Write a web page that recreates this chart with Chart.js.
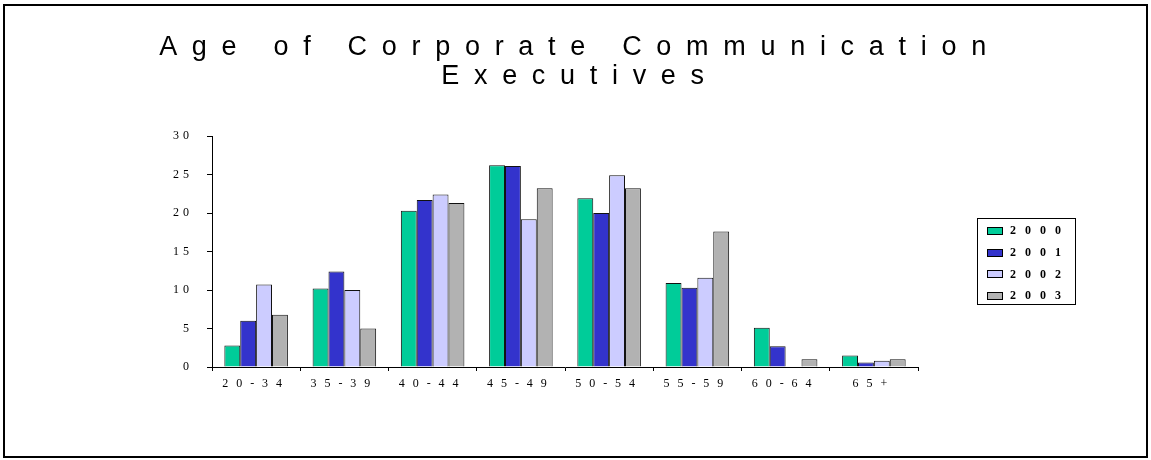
<!DOCTYPE html>
<html>
<head>
<meta charset="utf-8">
<title>Age of Corporate Communication Executives</title>
<script src="https://cdn.jsdelivr.net/npm/chart.js@4/dist/chart.umd.min.js"></script>
<style>
  html, body { margin: 0; padding: 0; background: #fff; }
  #wrap { position: relative; width: 1151px; height: 460px; overflow: hidden; }
  #chart { position: absolute; left: 0; top: 0; }
  #frame { position: absolute; left: 3px; top: 4px; width: 1141px; height: 450px; border: 2px solid #000; }
  #chartTitle {
    position: absolute; left: 0; top: 32px; width: 1160px;
    font: 27px "Liberation Sans", Arial, sans-serif; line-height: 29px;
    letter-spacing: 14.7px; text-align: center; white-space: nowrap; color: #000;
  }
  #legend {
    position: absolute; left: 977px; top: 218px; width: 97px; height: 84px;
    border: 1px solid #000; padding-top: 1px; box-sizing: content-box;
  }
  #legend .item { display: flex; align-items: center; height: 21.7px; padding-left: 9px; }
  #legend .swatch { width: 16px; height: 8px; border: 1px solid #000; box-sizing: border-box; }
  #legend .label {
    margin-left: 7px; font: bold 12px "Liberation Serif", "Times New Roman", serif;
    letter-spacing: 9px; color: #000;
  }
</style>
</head>
<body>
<div id="wrap">
  <canvas id="chart" width="1151" height="460"></canvas>
  <div id="chartTitle">Age of Corporate Communication<br>Executives</div>
  <div id="legend"></div>
  <div id="frame"></div>
</div>
<script>
// age brackets and share of executives (%) per survey year
const ageGroups = ['20-34', '35-39', '40-44', '45-49', '50-54', '55-59', '60-64', '65+'];
const years = ['2000', '2001', '2002', '2003'];
const pct2000 = [2.8, 10.2, 20.3, 26.2, 21.9, 10.9, 5.1, 1.5];
const pct2001 = [6.0, 12.4, 21.7, 26.1, 20.0, 10.3, 2.7, 0.6];
const pct2002 = [10.7, 10.0, 22.4, 19.2, 24.9, 11.6, 0, 0.8];
const pct2003 = [6.8, 5.0, 21.3, 23.2, 23.2, 17.6, 1.0, 1.0];
const yTicks = [0, 5, 10, 15, 20, 25, 30];

const barColors = ['#00CC99', '#3333CC', '#CCCCFF', '#B2B2B2'];
const serif = '"Liberation Serif", "Times New Roman", serif';

// the axis labels are spread out; x labels sit in the z=0 layer, y labels in z=1
const spacedTicks = {
  id: 'spacedTicks',
  beforeDraw(chart) { chart.ctx.letterSpacing = '8px'; },
  beforeDatasetsDraw(chart) { chart.ctx.letterSpacing = '0px'; },
  afterDatasetsDraw(chart) { chart.ctx.letterSpacing = '4px'; },
  afterDraw(chart) { chart.ctx.letterSpacing = '0px'; }
};

// boxed legend next to the plot, built from the datasets
const htmlLegend = {
  id: 'htmlLegend',
  afterUpdate(chart) {
    const box = document.getElementById('legend');
    box.innerHTML = '';
    chart.options.plugins.legend.labels.generateLabels(chart).forEach(item => {
      const row = document.createElement('div');
      row.className = 'item';
      const sw = document.createElement('span');
      sw.className = 'swatch';
      sw.style.background = item.fillStyle;
      const txt = document.createElement('span');
      txt.className = 'label';
      txt.textContent = item.text;
      row.appendChild(sw);
      row.appendChild(txt);
      box.appendChild(row);
    });
  }
};

const series = [pct2000, pct2001, pct2002, pct2003];

new Chart(document.getElementById('chart'), {
  type: 'bar',
  data: {
    labels: ageGroups,
    datasets: years.map((y, i) => ({
      label: y,
      data: series[i],
      backgroundColor: barColors[i],
      borderColor: '#111',
      borderWidth: 1,
      categoryPercentage: 0.72,
      barPercentage: 1.0
    }))
  },
  options: {
    responsive: false,
    animation: false,
    layout: { padding: { left: 150, right: 233, top: 136, bottom: 63 } },
    plugins: {
      legend: { display: false },
      title: { display: false },
      tooltip: { enabled: false }
    },
    scales: {
      x: {
        grid: { drawOnChartArea: false, tickLength: 4, color: '#000', offset: true },
        border: { color: '#000' },
        ticks: { color: '#000', padding: 6, maxRotation: 0, autoSkip: false, font: { family: serif, size: 12 } },
        afterFit: s => { s.height = 30; }
      },
      y: {
        min: 0,
        max: 30,
        afterBuildTicks: s => { s.ticks = yTicks.map(v => ({ value: v })); },
        grid: { drawOnChartArea: false, tickLength: 5, color: '#000' },
        border: { color: '#000' },
        ticks: { z: 1, color: '#000', padding: 14, font: { family: serif, size: 12 } },
        afterFit: s => { s.width = 62; }
      }
    }
  },
  plugins: [spacedTicks, htmlLegend]
});
</script>
</body>
</html>
